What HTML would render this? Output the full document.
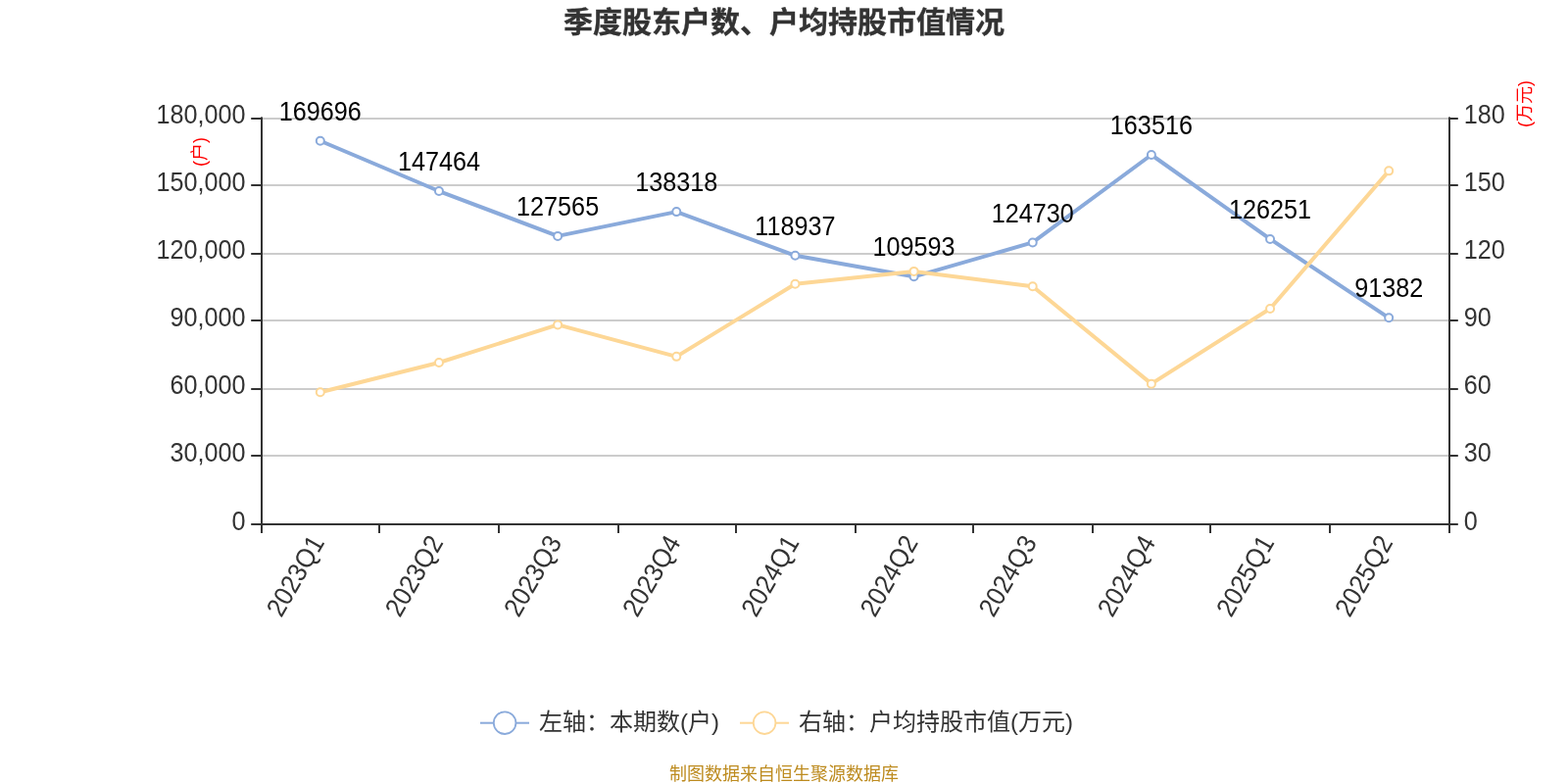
<!DOCTYPE html>
<html lang="zh-CN"><head><meta charset="utf-8"><title>季度股东户数、户均持股市值情况</title>
<style>html,body{margin:0;padding:0;background:#fff;}body{width:1600px;height:800px;overflow:hidden;}svg{display:block;}text{font-family:"Liberation Sans", "Noto Sans CJK SC", sans-serif;}</style></head><body>
<svg width="1600" height="800" viewBox="0 0 1600 800">
<rect width="1600" height="800" fill="#fff"/>
<text x="800" y="32.8" font-size="30" font-weight="bold" fill="#333" stroke="#333" stroke-width="0.35" text-anchor="middle">季度股东户数、户均持股市值情况</text>
<g fill="#ccc" shape-rendering="crispEdges">
<rect x="268" y="120" width="1210" height="2"/>
<rect x="268" y="188" width="1210" height="2"/>
<rect x="268" y="258" width="1210" height="2"/>
<rect x="268" y="326" width="1210" height="2"/>
<rect x="268" y="396" width="1210" height="2"/>
<rect x="268" y="464" width="1210" height="2"/>
</g>
<g fill="#333" shape-rendering="crispEdges">
<rect x="266" y="120" width="2" height="416"/>
<rect x="1478" y="120" width="2" height="416"/>
<rect x="266" y="119" width="2" height="1" fill-opacity="0.6"/>
<rect x="1478" y="119" width="2" height="1" fill-opacity="0.6"/>
<rect x="266" y="534" width="1214" height="2"/>
<rect x="266" y="536" width="2" height="8"/>
<rect x="386" y="536" width="2" height="8"/>
<rect x="508" y="536" width="2" height="8"/>
<rect x="630" y="536" width="2" height="8"/>
<rect x="750" y="536" width="2" height="8"/>
<rect x="872" y="536" width="2" height="8"/>
<rect x="992" y="536" width="2" height="8"/>
<rect x="1114" y="536" width="2" height="8"/>
<rect x="1234" y="536" width="2" height="8"/>
<rect x="1356" y="536" width="2" height="8"/>
<rect x="1478" y="536" width="2" height="8"/>
</g>
<g fill="#333">
<rect x="256.2" y="120" width="10" height="2"/>
<rect x="1479.8" y="120" width="8" height="2"/>
<rect x="256.2" y="188" width="10" height="2"/>
<rect x="1479.8" y="188" width="8" height="2"/>
<rect x="256.2" y="258" width="10" height="2"/>
<rect x="1479.8" y="258" width="8" height="2"/>
<rect x="256.2" y="326" width="10" height="2"/>
<rect x="1479.8" y="326" width="8" height="2"/>
<rect x="256.2" y="396" width="10" height="2"/>
<rect x="1479.8" y="396" width="8" height="2"/>
<rect x="256.2" y="464" width="10" height="2"/>
<rect x="1479.8" y="464" width="8" height="2"/>
<rect x="256.2" y="534" width="10" height="2"/>
<rect x="1479.8" y="534" width="8" height="2"/>
</g>
<g font-size="25.2" fill="#333">
<text transform="translate(250.6,125.60) scale(1,1.08)" text-anchor="end">180,000</text>
<text transform="translate(250.6,194.77) scale(1,1.08)" text-anchor="end">150,000</text>
<text transform="translate(250.6,263.93) scale(1,1.08)" text-anchor="end">120,000</text>
<text transform="translate(250.6,333.10) scale(1,1.08)" text-anchor="end">90,000</text>
<text transform="translate(250.6,402.27) scale(1,1.08)" text-anchor="end">60,000</text>
<text transform="translate(250.6,471.43) scale(1,1.08)" text-anchor="end">30,000</text>
<text transform="translate(250.6,540.60) scale(1,1.08)" text-anchor="end">0</text>
<text transform="translate(1493.8,125.60) scale(1,1.08)">180</text>
<text transform="translate(1493.8,194.77) scale(1,1.08)">150</text>
<text transform="translate(1493.8,263.93) scale(1,1.08)">120</text>
<text transform="translate(1493.8,333.10) scale(1,1.08)">90</text>
<text transform="translate(1493.8,402.27) scale(1,1.08)">60</text>
<text transform="translate(1493.8,471.43) scale(1,1.08)">30</text>
<text transform="translate(1493.8,540.60) scale(1,1.08)">0</text>
</g>
<text font-size="18" fill="#f00" text-anchor="middle" transform="translate(210.2,155) rotate(-90)">(户)</text>
<text font-size="18" fill="#f00" text-anchor="middle" transform="translate(1561.8,106) rotate(-90)">(万元)</text>
<g font-size="25.2" fill="#333" text-anchor="end">
<text transform="translate(324.80,549.4) rotate(-60) translate(0,8) scale(1,1.08)">2023Q1</text>
<text transform="translate(445.96,549.4) rotate(-60) translate(0,8) scale(1,1.08)">2023Q2</text>
<text transform="translate(567.11,549.4) rotate(-60) translate(0,8) scale(1,1.08)">2023Q3</text>
<text transform="translate(688.27,549.4) rotate(-60) translate(0,8) scale(1,1.08)">2023Q4</text>
<text transform="translate(809.42,549.4) rotate(-60) translate(0,8) scale(1,1.08)">2024Q1</text>
<text transform="translate(930.58,549.4) rotate(-60) translate(0,8) scale(1,1.08)">2024Q2</text>
<text transform="translate(1051.73,549.4) rotate(-60) translate(0,8) scale(1,1.08)">2024Q3</text>
<text transform="translate(1172.88,549.4) rotate(-60) translate(0,8) scale(1,1.08)">2024Q4</text>
<text transform="translate(1294.04,549.4) rotate(-60) translate(0,8) scale(1,1.08)">2025Q1</text>
<text transform="translate(1415.19,549.4) rotate(-60) translate(0,8) scale(1,1.08)">2025Q2</text>
</g>
<polyline points="326.80,143.76 447.96,195.01 569.11,240.89 690.27,216.10 811.42,260.78 932.58,282.33 1053.73,247.43 1174.88,158.00 1296.04,243.92 1417.19,324.31" fill="none" stroke="#8aaadb" stroke-width="4" stroke-linejoin="bevel"/>
<g fill="#fff" stroke="#8aaadb" stroke-width="2">
<circle cx="326.80" cy="143.76" r="4"/>
<circle cx="447.96" cy="195.01" r="4"/>
<circle cx="569.11" cy="240.89" r="4"/>
<circle cx="690.27" cy="216.10" r="4"/>
<circle cx="811.42" cy="260.78" r="4"/>
<circle cx="932.58" cy="282.33" r="4"/>
<circle cx="1053.73" cy="247.43" r="4"/>
<circle cx="1174.88" cy="158.00" r="4"/>
<circle cx="1296.04" cy="243.92" r="4"/>
<circle cx="1417.19" cy="324.31" r="4"/>
</g>
<polyline points="326.80,400.25 447.96,370.00 569.11,331.40 690.27,363.85 811.42,289.75 932.58,276.90 1053.73,292.25 1174.88,391.65 1296.04,315.00 1417.19,174.35" fill="none" stroke="#fdd796" stroke-width="4" stroke-linejoin="bevel"/>
<g fill="#fff" stroke="#fdd796" stroke-width="2">
<circle cx="326.80" cy="400.25" r="4"/>
<circle cx="447.96" cy="370.00" r="4"/>
<circle cx="569.11" cy="331.40" r="4"/>
<circle cx="690.27" cy="363.85" r="4"/>
<circle cx="811.42" cy="289.75" r="4"/>
<circle cx="932.58" cy="276.90" r="4"/>
<circle cx="1053.73" cy="292.25" r="4"/>
<circle cx="1174.88" cy="391.65" r="4"/>
<circle cx="1296.04" cy="315.00" r="4"/>
<circle cx="1417.19" cy="174.35" r="4"/>
</g>
<g font-size="25.2" fill="#000" text-anchor="middle">
<text transform="translate(326.80,122.86) scale(1,1.08)">169696</text>
<text transform="translate(447.96,174.11) scale(1,1.08)">147464</text>
<text transform="translate(569.11,219.99) scale(1,1.08)">127565</text>
<text transform="translate(690.27,195.20) scale(1,1.08)">138318</text>
<text transform="translate(811.42,239.88) scale(1,1.08)">118937</text>
<text transform="translate(932.58,261.43) scale(1,1.08)">109593</text>
<text transform="translate(1053.73,226.53) scale(1,1.08)">124730</text>
<text transform="translate(1174.88,137.10) scale(1,1.08)">163516</text>
<text transform="translate(1296.04,223.02) scale(1,1.08)">126251</text>
<text transform="translate(1417.19,303.41) scale(1,1.08)">91382</text>
</g>
<rect x="490" y="736.7" width="50" height="2" fill="#8aaadb"/>
<circle cx="515.1" cy="737.7" r="11.3" fill="#fff" stroke="#8aaadb" stroke-width="1.8"/>
<text x="550" y="744.6" font-size="24" fill="#333">左轴：本期数(户)</text>
<rect x="755" y="736.7" width="50" height="2" fill="#fdd796"/>
<circle cx="780.1" cy="737.7" r="11.3" fill="#fff" stroke="#fdd796" stroke-width="1.8"/>
<text x="815" y="744.6" font-size="24" fill="#333">右轴：户均持股市值(万元)</text>
<text x="800" y="796" font-size="18" fill="#bd8b1f" text-anchor="middle">制图数据来自恒生聚源数据库</text>
</svg></body></html>
